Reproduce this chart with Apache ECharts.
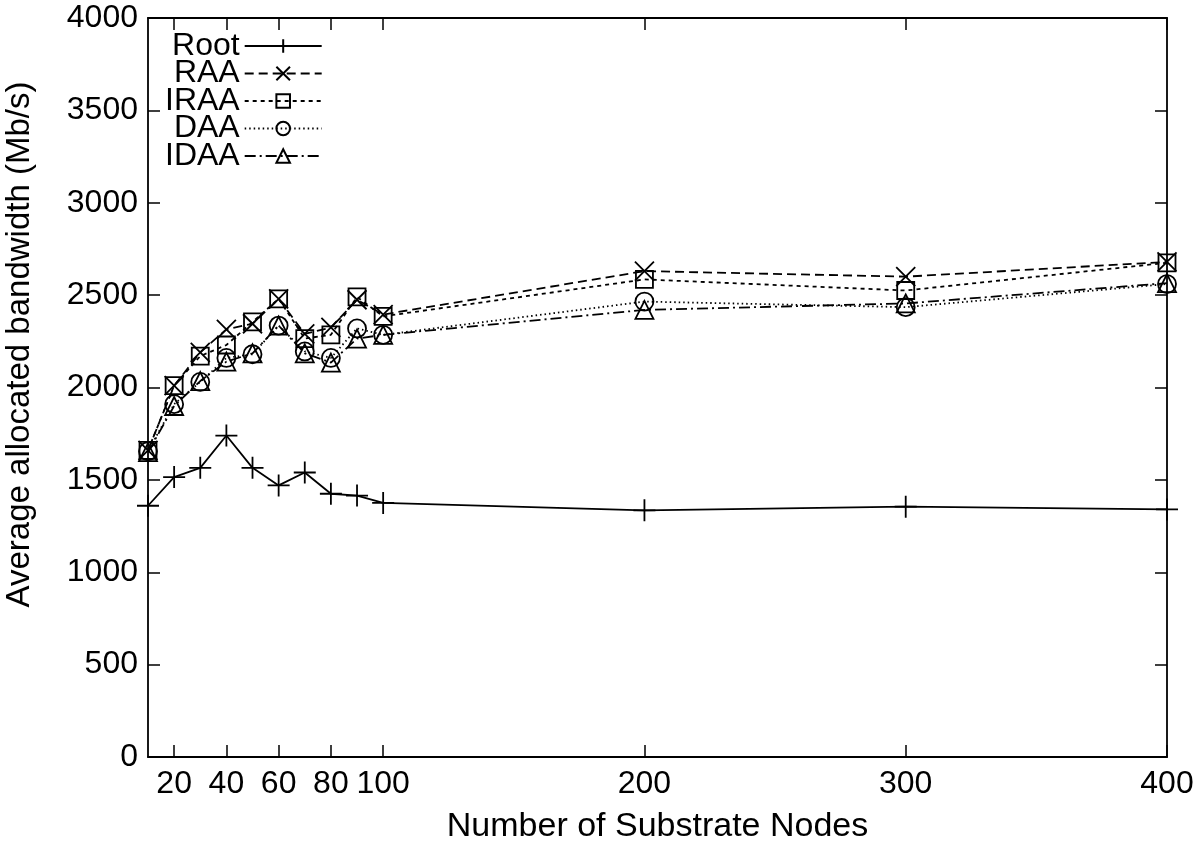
<!DOCTYPE html>
<html>
<head>
<meta charset="utf-8">
<script src="https://cdn.jsdelivr.net/npm/echarts@6/dist/echarts.min.js"></script>
<style>
html,body{margin:0;padding:0;background:#fff;}
#chart{width:1200px;height:843px;}
</style>
</head>
<body>
<div id="chart"></div>
<script>
const nodes = [10, 20, 30, 40, 50, 60, 70, 80, 90, 100, 200, 300, 400];
const rootVals = [1360, 1515, 1565, 1740, 1565, 1470, 1540, 1425, 1415, 1375, 1335, 1355, 1340];
const raaVals  = [1660, 2010, 2190, 2315, 2345, 2480, 2290, 2325, 2475, 2395, 2630, 2600, 2680];
const iraaVals = [1660, 2010, 2170, 2230, 2355, 2480, 2265, 2285, 2490, 2385, 2585, 2525, 2675];
const daaVals  = [1655, 1910, 2030, 2160, 2180, 2335, 2195, 2160, 2320, 2285, 2465, 2435, 2560];
const idaaVals = [1650, 1900, 2035, 2140, 2185, 2335, 2185, 2135, 2265, 2285, 2420, 2455, 2565];
const xTicks = [20, 40, 60, 80, 100, 200, 300, 400];
const seriesNames = ['Root', 'RAA', 'IRAA', 'DAA', 'IDAA'];

const FONT = '"Liberation Sans", Arial, Helvetica, sans-serif';
const pair = vals => nodes.map((x, i) => [x, vals[i]]);

const plusPath = 'path://M0,10L20,10M10,0L10,20';
const xPath = 'path://M0,0L20,20M20,0L0,20';

function mk(name, vals, symbol, size, dash) {
  return {
    name: name,
    type: 'line',
    data: pair(vals),
    symbol: symbol,
    symbolSize: size,
    showAllSymbol: true,
    clip: false,
    lineStyle: { color: '#000', width: 1.8, type: dash },
    itemStyle: { color: 'none', borderColor: '#000', borderWidth: 1.8 },
    emphasis: { disabled: true },
    animation: false
  };
}

const axisCommon = {
  axisLine: { show: true, onZero: false, lineStyle: { color: '#000', width: 1.8 } },
  axisTick: { show: true, inside: true, length: 12, lineStyle: { color: '#000', width: 1.5 } },
  splitLine: { show: false }
};

const chart = echarts.init(document.getElementById('chart'), null, { renderer: 'canvas' });
chart.setOption({
  backgroundColor: '#fff',
  animation: false,
  grid: { left: 148, right: 33, top: 18, bottom: 86, containLabel: false, outerBoundsMode: 'none' },
  legend: {
    data: seriesNames,
    orient: 'vertical',
    align: 'right',
    left: 165,
    top: 30,
    padding: 0,
    itemWidth: 77,
    itemHeight: 17,
    itemGap: -4.5,
    textStyle: { fontFamily: FONT, fontSize: 32, color: '#000' }
  },
  xAxis: [
    Object.assign({}, axisCommon, {
      type: 'value', position: 'bottom', min: 10, max: 400,
      name: 'Number of Substrate Nodes', nameLocation: 'middle', nameGap: 53,
      nameTextStyle: { fontFamily: FONT, fontSize: 34, color: '#000' },
      axisTick: Object.assign({}, axisCommon.axisTick, { customValues: xTicks }),
      axisLabel: { customValues: xTicks, margin: 11, fontFamily: FONT, fontSize: 32, color: '#000', showMinLabel: true, showMaxLabel: true }
    }),
    Object.assign({}, axisCommon, {
      type: 'value', position: 'top', min: 10, max: 400,
      axisTick: Object.assign({}, axisCommon.axisTick, { customValues: xTicks }),
      axisLabel: { show: false }
    })
  ],
  yAxis: [
    Object.assign({}, axisCommon, {
      type: 'value', position: 'left', min: 0, max: 4000, interval: 500,
      name: 'Average allocated bandwidth (Mb/s)', nameLocation: 'middle', nameGap: 112, nameRotate: 90,
      nameTextStyle: { fontFamily: FONT, fontSize: 33, color: '#000', padding: [0, 0, 0, 86] },
      axisLabel: { margin: 10, fontFamily: FONT, fontSize: 32, color: '#000', formatter: v => String(v) }
    }),
    Object.assign({}, axisCommon, {
      type: 'value', position: 'right', min: 0, max: 4000, interval: 500,
      axisLabel: { show: false }
    })
  ],
  series: [
    mk('Root', rootVals, plusPath, 22, 'solid'),
    mk('RAA', raaVals, xPath, 19, [9, 5]),
    mk('IRAA', iraaVals, 'rect', 17, [4, 4]),
    mk('DAA', daaVals, 'circle', 18, [1.5, 3]),
    mk('IDAA', idaaVals, 'triangle', 18, [11, 4, 2, 4])
  ]
});
</script>
</body>
</html>
